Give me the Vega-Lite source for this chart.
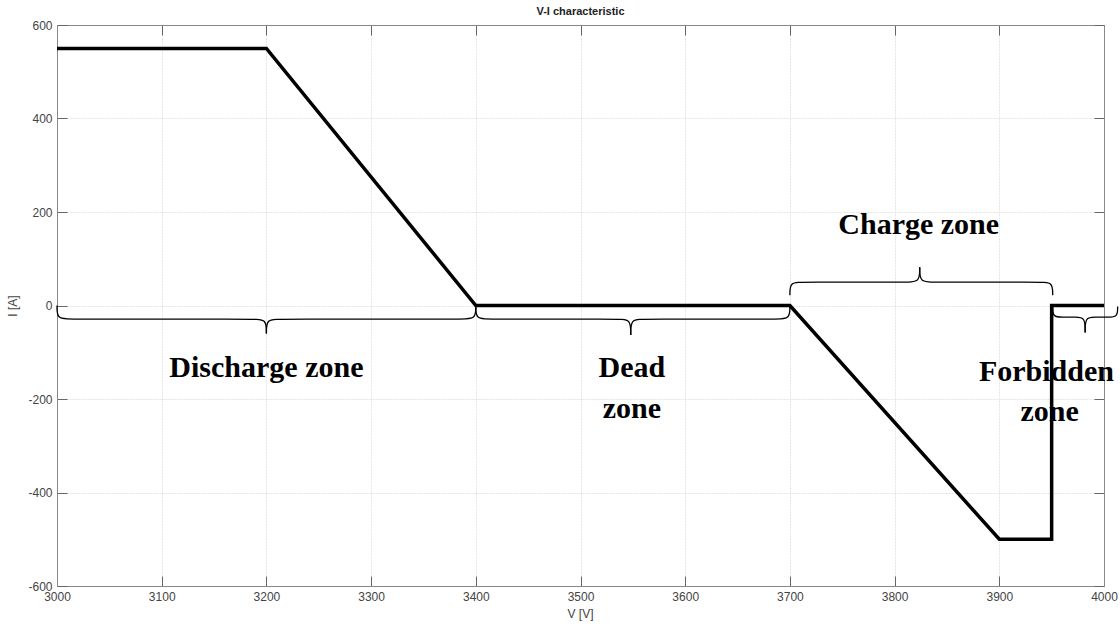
{
  "$schema": "https://vega.github.io/schema/vega-lite/v6.json",
  "autosize": "none",
  "width": 1047,
  "height": 561,
  "padding": {"left": 57, "top": 25, "right": 16, "bottom": 38},
  "background": "white",
  "config": {
    "view": {"stroke": null},
    "axis": {
      "labelFont": "Liberation Sans",
      "titleFont": "Liberation Sans",
      "labelColor": "#444444",
      "titleColor": "#444444",
      "labelFontSize": 12,
      "titleFontSize": 12,
      "titleFontWeight": "normal",
      "domainColor": "#888888",
      "tickColor": "#666666",
      "gridColor": "#e4e4e4",
      "gridDash": [2, 1],
      "labelFlush": false,
      "labelOverlap": false
    }
  },
  "title": {
    "text": "V-I characteristic",
    "font": "Liberation Sans",
    "fontSize": 11,
    "fontWeight": "bold",
    "color": "#222222",
    "offset": 2
  },
  "datasets": {
    "curve": [
      {"v": 3000, "i": 550, "o": 0},
      {"v": 3200, "i": 550, "o": 1},
      {"v": 3400, "i": 0, "o": 2},
      {"v": 3700, "i": 0, "o": 3},
      {"v": 3900, "i": -500, "o": 4},
      {"v": 3950, "i": -500, "o": 5},
      {"v": 3950, "i": 0, "o": 6},
      {"v": 4000, "i": 0, "o": 7}
    ],
    "braces": [
      {"s": "dL", "o": 0, "v": 3000, "i": 0},
      {"s": "dL", "o": 1, "v": 3000, "i": -29},
      {"s": "dL", "o": 2, "v": 3012, "i": -29},
      {"s": "dL", "o": 3, "v": 3188, "i": -29},
      {"s": "dL", "o": 4, "v": 3200, "i": -29},
      {"s": "dL", "o": 5, "v": 3200, "i": -60},
      {"s": "dR", "o": 0, "v": 3400, "i": 0},
      {"s": "dR", "o": 1, "v": 3400, "i": -29},
      {"s": "dR", "o": 2, "v": 3388, "i": -29},
      {"s": "dR", "o": 3, "v": 3212, "i": -29},
      {"s": "dR", "o": 4, "v": 3200, "i": -29},
      {"s": "dR", "o": 5, "v": 3200, "i": -60},
      {"s": "eL", "o": 0, "v": 3400, "i": 0},
      {"s": "eL", "o": 1, "v": 3400, "i": -29},
      {"s": "eL", "o": 2, "v": 3412, "i": -29},
      {"s": "eL", "o": 3, "v": 3536, "i": -29},
      {"s": "eL", "o": 4, "v": 3548, "i": -29},
      {"s": "eL", "o": 5, "v": 3548, "i": -63},
      {"s": "eR", "o": 0, "v": 3700, "i": 0},
      {"s": "eR", "o": 1, "v": 3700, "i": -29},
      {"s": "eR", "o": 2, "v": 3688, "i": -29},
      {"s": "eR", "o": 3, "v": 3560, "i": -29},
      {"s": "eR", "o": 4, "v": 3548, "i": -29},
      {"s": "eR", "o": 5, "v": 3548, "i": -63},
      {"s": "cL", "o": 0, "v": 3700, "i": 22},
      {"s": "cL", "o": 1, "v": 3700, "i": 50},
      {"s": "cL", "o": 2, "v": 3712, "i": 50},
      {"s": "cL", "o": 3, "v": 3812, "i": 50},
      {"s": "cL", "o": 4, "v": 3824, "i": 50},
      {"s": "cL", "o": 5, "v": 3824, "i": 82},
      {"s": "cR", "o": 0, "v": 3951, "i": 22},
      {"s": "cR", "o": 1, "v": 3951, "i": 50},
      {"s": "cR", "o": 2, "v": 3939, "i": 50},
      {"s": "cR", "o": 3, "v": 3836, "i": 50},
      {"s": "cR", "o": 4, "v": 3824, "i": 50},
      {"s": "cR", "o": 5, "v": 3824, "i": 82},
      {"s": "fL", "o": 0, "v": 3951, "i": 0},
      {"s": "fL", "o": 1, "v": 3951, "i": -25},
      {"s": "fL", "o": 2, "v": 3960, "i": -25},
      {"s": "fL", "o": 3, "v": 3973, "i": -25},
      {"s": "fL", "o": 4, "v": 3982, "i": -25},
      {"s": "fL", "o": 5, "v": 3982, "i": -58},
      {"s": "fR", "o": 0, "v": 4013, "i": -2},
      {"s": "fR", "o": 1, "v": 4013, "i": -25},
      {"s": "fR", "o": 2, "v": 4004, "i": -25},
      {"s": "fR", "o": 3, "v": 3991, "i": -25},
      {"s": "fR", "o": 4, "v": 3982, "i": -25},
      {"s": "fR", "o": 5, "v": 3982, "i": -58}
    ],
    "labels": [
      {"v": 3200, "i": -134, "t": "Discharge zone"},
      {"v": 3549, "i": -134, "t": "Dead"},
      {"v": 3549, "i": -222, "t": "zone"},
      {"v": 3823, "i": 172, "t": "Charge zone"},
      {"v": 3945, "i": -142, "t": "Forbidden"},
      {"v": 3948, "i": -228, "t": "zone"}
    ]
  },
  "resolve": {"axis": {"x": "independent", "y": "independent"}},
  "layer": [
    {
      "data": {"name": "curve"},
      "mark": {"type": "line", "color": "black", "strokeWidth": 3.5, "strokeJoin": "miter"},
      "encoding": {
        "x": {
          "field": "v", "type": "quantitative",
          "scale": {"domain": [3000, 4000], "nice": false, "zero": false},
          "axis": {"orient": "bottom", "values": [3000, 3100, 3200, 3300, 3400, 3500, 3600, 3700, 3800, 3900, 4000], "title": "V [V]", "tickSize": -10, "labelPadding": 15, "titleAnchor": "start", "titleX": 510, "titlePadding": 6, "grid": true, "format": "d"}
        },
        "y": {
          "field": "i", "type": "quantitative",
          "scale": {"domain": [-600, 600], "nice": false},
          "axis": {"orient": "left", "values": [-600, -400, -200, 0, 200, 400, 600], "title": "I [A]", "tickSize": -10, "labelPadding": 15, "titlePadding": 8, "grid": true, "labelExpr": "replace(datum.label, '−', '-')"}
        },
        "order": {"field": "o"}
      }
    },
    {
      "data": {"name": "braces"},
      "mark": {"type": "line", "color": "black", "strokeWidth": 1.3, "interpolate": "basis", "clip": false},
      "encoding": {
        "x": {
          "field": "v", "type": "quantitative",
          "axis": {"orient": "top", "values": [3000, 3100, 3200, 3300, 3400, 3500, 3600, 3700, 3800, 3900, 4000], "labels": false, "title": null, "tickSize": -10, "grid": false}
        },
        "y": {
          "field": "i", "type": "quantitative",
          "axis": {"orient": "right", "values": [-600, -400, -200, 0, 200, 400, 600], "labels": false, "title": null, "tickSize": -10, "grid": false}
        },
        "detail": {"field": "s"},
        "order": {"field": "o"}
      }
    },
    {
      "data": {"name": "labels"},
      "mark": {"type": "text", "font": "Liberation Serif", "fontWeight": "bold", "fontSize": 30, "color": "black", "align": "center", "baseline": "middle"},
      "encoding": {
        "x": {"field": "v", "type": "quantitative", "axis": null},
        "y": {"field": "i", "type": "quantitative", "axis": null},
        "text": {"field": "t"}
      }
    }
  ]
}
